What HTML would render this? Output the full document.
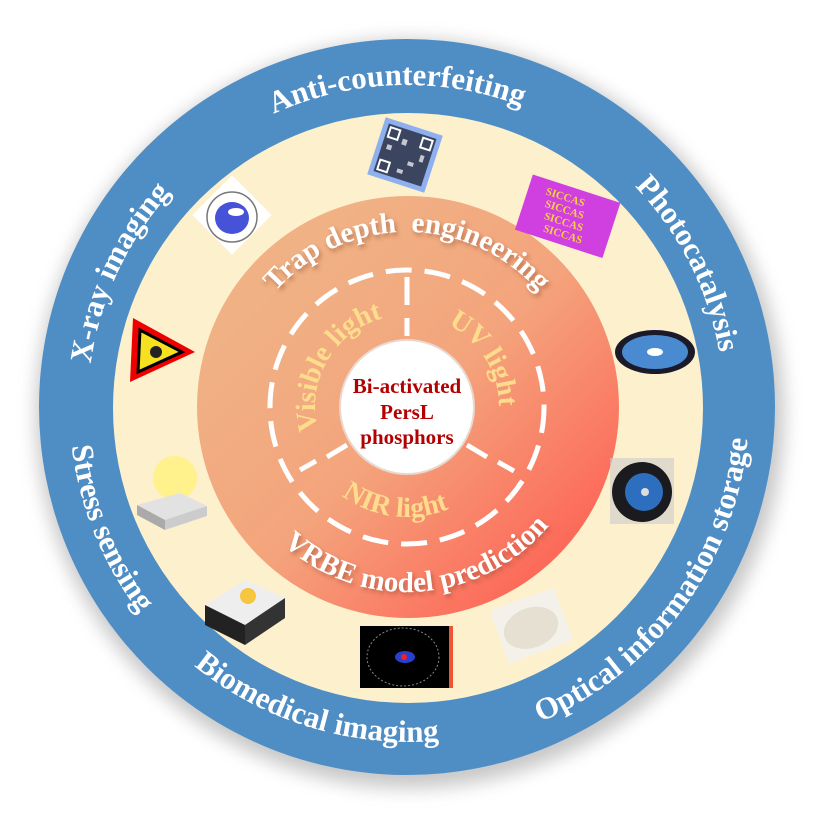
<!DOCTYPE html>
<html><head><meta charset="utf-8"><style>
html,body{margin:0;padding:0;background:#fff;}
svg{display:block;}
text{font-family:"Liberation Serif",serif;font-weight:bold;}
</style></head><body>
<svg width="820" height="820" viewBox="0 0 820 820" xmlns="http://www.w3.org/2000/svg">
<defs>
<filter id="sh" x="-20%" y="-20%" width="140%" height="140%"><feGaussianBlur stdDeviation="9"/></filter>
<filter id="ts" x="-10%" y="-10%" width="120%" height="130%"><feDropShadow dx="2" dy="3" stdDeviation="2" flood-color="#7a3a20" flood-opacity="0.45"/></filter>
<linearGradient id="og" x1="0.2" y1="0.2" x2="0.9" y2="0.9">
<stop offset="0" stop-color="#f0b184"/><stop offset="0.45" stop-color="#f4a47c"/><stop offset="1" stop-color="#fe6154"/></linearGradient>
<path id="p1" d="M85,407 A322,322 0 0 1 729,407"/>
<path id="p2" d="M261.3,121 A321,321 0 0 1 552.7,693"/>
<path id="p3" d="M271.3,697.9 A321,321 0 0 1 542.7,116.1"/>
<path id="p4" d="M267.9,94.6 A342,342 0 0 0 546.1,719.4"/>
<path id="p5" d="M80,307.1 A342,342 0 0 0 734,506.9"/>
<path id="p6" d="M196.4,676.5 A342,342 0 0 0 617.6,137.5"/>
<path id="q1" d="M232,407 A175,175 0 0 1 582,407"/>
<path id="q2" d="M222.4,420 A185,185 0 0 0 591.5,394"/>
<path id="q3" d="M361,486.7 A92,92 0 0 1 453,327.3"/>
<path id="q4" d="M358.2,329 A92,92 0 0 1 455.8,485"/>
<path id="q5" d="M297.8,393.6 A110,110 0 0 0 516.2,420.4"/>
</defs>
<circle cx="410" cy="414" r="374" fill="#9a9a9a" opacity="0.55" filter="url(#sh)"/>
<circle cx="407" cy="407" r="368" fill="#4f8dc5"/>
<circle cx="408" cy="408" r="295" fill="#fdf0cd"/>
<circle cx="408" cy="407" r="211" fill="url(#og)"/>
<circle cx="407" cy="407" r="137" fill="none" stroke="#fff" stroke-width="5" stroke-dasharray="26 13"/>
<g stroke="#fff" stroke-width="5">
<line x1="407" y1="277" x2="407" y2="305"/><line x1="407" y1="318" x2="407" y2="336"/>
<line x1="327" y1="457" x2="347" y2="445"/><line x1="300" y1="470" x2="316" y2="461"/>
<line x1="467" y1="445" x2="487" y2="457"/><line x1="498" y1="462" x2="514" y2="471"/>
</g>
<circle cx="407" cy="407" r="67" fill="#fff" stroke="#e8d8d0" stroke-width="2"/>
<g fill="#b30000" font-size="21" text-anchor="middle">
<text x="407" y="393">Bi-activated</text>
<text x="407" y="419">PersL</text>
<text x="407" y="444">phosphors</text>
</g>
<g fill="#fff" font-size="31">
<text><textPath href="#p1" startOffset="49%" text-anchor="middle">Anti-counterfeiting</textPath></text>
<text><textPath href="#p2" startOffset="50%" text-anchor="middle">Photocatalysis</textPath></text>
<text><textPath href="#p3" startOffset="50%" text-anchor="middle">X-ray imaging</textPath></text>
<text><textPath href="#p4" startOffset="49%" text-anchor="middle">Stress sensing</textPath></text>
<text><textPath href="#p5" startOffset="50%" text-anchor="middle">Biomedical imaging</textPath></text>
<text><textPath href="#p6" startOffset="51%" text-anchor="middle">Optical information storage</textPath></text>
</g>
<g fill="#fff" font-size="29" filter="url(#ts)">
<text><textPath href="#q1" startOffset="50%" text-anchor="middle" xml:space="preserve">Trap depth  engineering</textPath></text>
<text><textPath href="#q2" startOffset="50%" text-anchor="middle">VRBE model prediction</textPath></text>
</g>
<g fill="#fddc8c" font-size="28">
<text><textPath href="#q3" startOffset="50%" text-anchor="middle">Visible light</textPath></text>
<text><textPath href="#q4" startOffset="50%" text-anchor="middle">UV light</textPath></text>
<text><textPath href="#q5" startOffset="50%" text-anchor="middle">NIR light</textPath></text>
</g>
<g transform="rotate(18 405 155)">
<rect x="375" y="125" width="60" height="60" fill="#8fb0ee"/>
<rect x="380" y="130" width="50" height="50" fill="#1f2230" opacity="0.75"/>
<g fill="#fff" opacity="0.7"><rect x="385" y="150" width="5" height="5"/><rect x="398" y="140" width="5" height="6"/><rect x="410" y="160" width="6" height="4"/><rect x="420" y="150" width="4" height="7"/><rect x="402" y="170" width="6" height="4"/></g>
<rect x="383" y="133" width="10" height="10" fill="none" stroke="#fff" stroke-width="2"/>
<rect x="417" y="133" width="10" height="10" fill="none" stroke="#fff" stroke-width="2"/>
<rect x="383" y="167" width="10" height="10" fill="none" stroke="#fff" stroke-width="2"/>
</g>
<g transform="rotate(18 567 215)">
<rect x="522" y="187" width="92" height="58" fill="#d03fe0"/>
<g fill="#f7d23b" font-size="11" font-family="Liberation Sans" text-anchor="middle">
<text x="560" y="202">SICCAS</text><text x="563" y="214">SICCAS</text><text x="566" y="226">SICCAS</text><text x="569" y="238">SICCAS</text></g>
</g>
<g transform="rotate(45 232 215)"><rect x="204" y="187" width="56" height="56" fill="#fff"/></g>
<circle cx="232" cy="217" r="25" fill="none" stroke="#777" stroke-width="1.5"/>
<ellipse cx="232" cy="218" rx="17" ry="16" fill="#4652d8"/><ellipse cx="236" cy="212" rx="8" ry="4" fill="#fff"/>
<polygon points="133,318 195,352 130,382" fill="#e00"/>
<polygon points="140,330 182,352 138,372" fill="#f6e020" stroke="#000" stroke-width="3"/>
<circle cx="156" cy="352" r="6" fill="#222"/>
<ellipse cx="655" cy="352" rx="40" ry="22" fill="#1a1a2a"/>
<ellipse cx="655" cy="352" rx="33" ry="17" fill="#4a8ad0"/>
<ellipse cx="655" cy="352" rx="8" ry="4" fill="#fff"/>
<rect x="610" y="458" width="64" height="66" fill="#ccc" opacity="0.6"/>
<circle cx="642" cy="492" r="30" fill="#1b1b1f"/><circle cx="644" cy="492" r="19" fill="#2d6fbe"/><circle cx="645" cy="492" r="4" fill="#ddd"/>
<g transform="rotate(-20 530 625)"><rect x="497" y="598" width="68" height="56" fill="#f4f1ea"/><ellipse cx="530" cy="628" rx="28" ry="20" fill="#e6e0d3"/></g>
<rect x="360" y="626" width="93" height="62" fill="#000"/>
<rect x="449" y="626" width="4" height="62" fill="#e53"/>
<ellipse cx="403" cy="657" rx="36" ry="29" fill="none" stroke="#888" stroke-dasharray="2 2"/>
<ellipse cx="405" cy="657" rx="10" ry="6" fill="#2a3fd0"/><circle cx="404" cy="657" r="3" fill="#e22"/>
<circle cx="175" cy="478" r="22" fill="#fff17a" opacity="0.8"/>
<polygon points="137,505 180,493 207,506 165,520" fill="#e2e2e2"/><polygon points="137,505 165,520 165,530 137,515" fill="#aaa"/><polygon points="165,520 207,506 207,516 165,530" fill="#ccc"/>
<polygon points="205,605 245,580 285,598 245,625" fill="#eee"/><polygon points="205,605 245,625 245,645 205,625" fill="#222"/><polygon points="245,625 285,598 285,618 245,645" fill="#333"/>
<circle cx="248" cy="596" r="8" fill="#f7c640"/>
</svg>
</body></html>
